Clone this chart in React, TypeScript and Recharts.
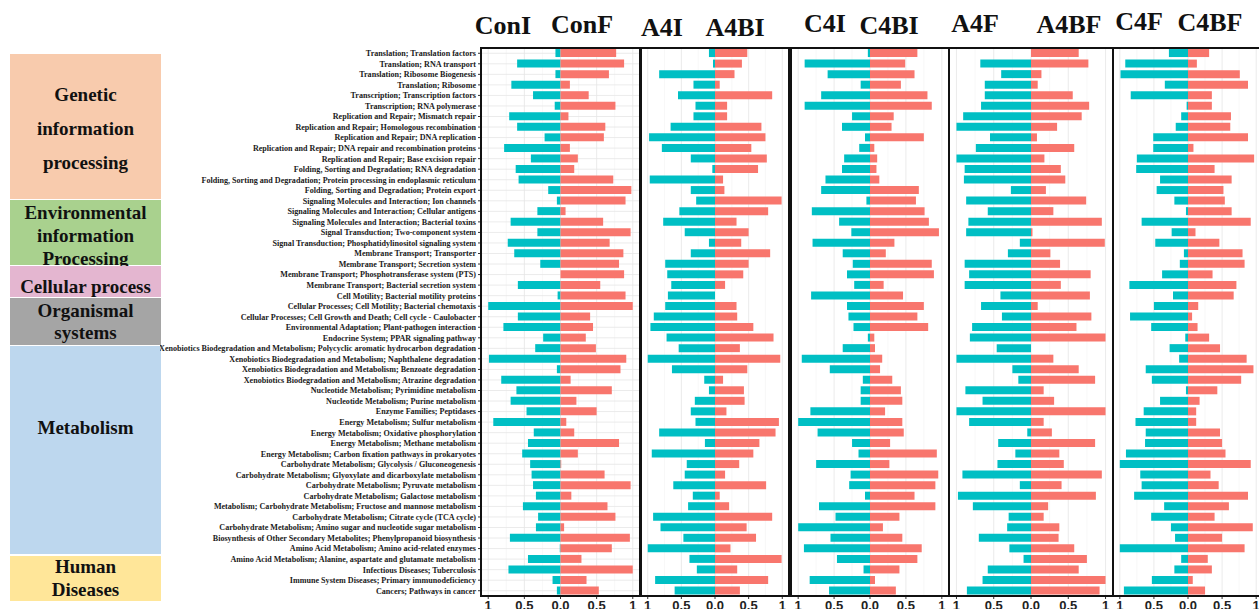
import React from "react";
import { BarChart, Bar, XAxis, YAxis, CartesianGrid } from "recharts";

// KEGG pathway rows, top to bottom
const pathways = [
  "Translation; Translation factors",
  "Translation; RNA transport",
  "Translation; Ribosome Biogenesis",
  "Translation; Ribosome",
  "Transcription; Transcription factors",
  "Transcription; RNA polymerase",
  "Replication and Repair; Mismatch repair",
  "Replication and Repair; Homologous recombination",
  "Replication and Repair; DNA replication",
  "Replication and Repair; DNA repair and recombination proteins",
  "Replication and Repair; Base excision repair",
  "Folding, Sorting and Degradation; RNA degradation",
  "Folding, Sorting and Degradation; Protein processing in endoplasmic reticulum",
  "Folding, Sorting and Degradation; Protein export",
  "Signaling Molecules and Interaction; Ion channels",
  "Signaling Molecules and Interaction; Cellular antigens",
  "Signaling Molecules and Interaction; Bacterial toxins",
  "Signal Transduction; Two-component system",
  "Signal Transduction; Phosphatidylinositol signaling system",
  "Membrane Transport; Transporter",
  "Membrane Transport; Secretion system",
  "Membrane Transport; Phosphotransferase system (PTS)",
  "Membrane Transport; Bacterial secretion system",
  "Cell Motility; Bacterial motility proteins",
  "Cellular Processes; Cell Motility; Bacterial chemotaxis",
  "Cellular Processes; Cell Growth and Death; Cell cycle - Caulobacter",
  "Environmental Adaptation; Plant-pathogen interaction",
  "Endocrine System; PPAR signaling pathway",
  "Xenobiotics Biodegradation and Metabolism; Polycyclic aromatic hydrocarbon degradation",
  "Xenobiotics Biodegradation and Metabolism; Naphthalene degradation",
  "Xenobiotics Biodegradation and Metabolism; Benzoate degradation",
  "Xenobiotics Biodegradation and Metabolism; Atrazine degradation",
  "Nucleotide Metabolism; Pyrimidine metabolism",
  "Nucleotide Metabolism; Purine metabolism",
  "Enzyme Families; Peptidases",
  "Energy Metabolism; Sulfur metabolism",
  "Energy Metabolism; Oxidative phosphorylation",
  "Energy Metabolism; Methane metabolism",
  "Energy Metabolism; Carbon fixation pathways in prokaryotes",
  "Carbohydrate Metabolism; Glycolysis / Gluconeogenesis",
  "Carbohydrate Metabolism; Glyoxylate and dicarboxylate metabolism",
  "Carbohydrate Metabolism; Pyruvate metabolism",
  "Carbohydrate Metabolism; Galactose metabolism",
  "Metabolism; Carbohydrate Metabolism; Fructose and mannose metabolism",
  "Carbohydrate Metabolism; Citrate cycle (TCA cycle)",
  "Carbohydrate Metabolism; Amino sugar and nucleotide sugar metabolism",
  "Biosynthesis of Other Secondary Metabolites; Phenylpropanoid biosynthesis",
  "Amino Acid Metabolism; Amino acid-related enzymes",
  "Amino Acid Metabolism; Alanine, aspartate and glutamate metabolism",
  "Infectious Diseases; Tuberculosis",
  "Immune System Diseases; Primary immunodeficiency",
  "Cancers; Pathways in cancer",
];

// left-hand sample of each pair is drawn to the negative side
const conI = [-0.07, -0.6, -0.07, -0.68, -0.38, -0.08, -0.71, -0.6, -0.22, -0.78, -0.41, -0.62, -0.58, -0.17, -0.05, -0.32, -0.69, -0.32, -0.73, -0.64, -0.28, 0, -0.59, -0.04, -1.0, -0.59, -0.79, -0.24, -0.35, -0.99, -0.05, -0.82, -0.61, -0.69, -0.47, -0.93, -0.37, -0.45, -0.53, -0.42, -0.4, -0.38, -0.34, -0.52, -0.31, -0.34, -0.7, -0.01, -0.45, -0.72, -0.11, -0.05];
const conF = [0.77, 0.88, 0.67, 0.13, 0.39, 0.76, 0.11, 0.62, 0.6, 0.13, 0.24, 0.19, 0.73, 0.98, 0.9, 0.07, 0.59, 0.97, 0.68, 0.87, 0.81, 0.88, 0.55, 0.9, 1.0, 0.41, 0.45, 0.35, 0.49, 0.91, 0.83, 0.14, 0.71, 0.22, 0.5, 0.08, 0.19, 0.81, 0.24, 0.01, 0.61, 0.97, 0.15, 0.65, 0.76, 0.05, 0.96, 0.71, 0.29, 1.0, 0.36, 0.53];
const a4I = [-0.09, -0.03, -0.83, -0.32, -0.55, -0.29, -0.32, -0.66, -0.98, -0.79, -0.36, -0.04, -0.97, -0.36, -0.28, -0.53, -0.77, -0.45, -0.09, -0.36, -0.74, -0.71, -0.65, -0.7, -0.74, -0.91, -0.96, -0.72, -0.54, -1.0, -0.64, -0.16, -0.09, -0.3, -0.36, -0.29, -0.83, -0.15, -0.94, -0.42, -0.45, -0.62, -0.33, -0.4, -0.92, -0.81, -0.47, -1.0, -0.38, -0.27, -0.89, -0.6];
const a4BI = [0.48, 0.4, 0.29, 0.07, 0.85, 0.18, 0.18, 0.69, 0.75, 0.54, 0.77, 0.64, 0.12, 0.14, 0.99, 0.79, 0.32, 0.5, 0.39, 0.82, 0.5, 0.42, 0.15, 0, 0.32, 0.33, 0.57, 0.87, 0.37, 0.97, 0.48, 0.12, 0.43, 0.44, 0.17, 0.95, 0.9, 0.66, 0.57, 0.36, 0.15, 0.76, 0.07, 0.21, 0.85, 0.47, 0.61, 0.23, 0.99, 0.33, 0.79, 0.37];
const c4I = [-0.03, -0.91, -0.59, -0.13, -0.68, -0.91, -0.25, -0.39, -0.07, -0.15, -0.36, -0.39, -0.62, -0.68, -0.05, -0.81, -0.43, -0.26, -0.8, -0.38, -0.24, -0.32, -0.22, -0.82, -0.32, -0.3, -0.23, -0.03, -0.38, -0.95, -0.56, -0.1, -0.13, -0.13, -0.83, -1.0, -0.73, -0.25, -0.16, -0.75, -0.27, -0.29, -0.07, -0.71, -0.48, -1.0, -0.55, -0.92, -0.46, -0.09, -0.84, -0.57];
const c4BI = [0.66, 0.49, 0.62, 0.43, 0.8, 0.86, 0.33, 0.3, 0.75, 0.06, 0.1, 0.09, 0.13, 0.68, 0.64, 0.76, 0.82, 0.96, 0.34, 0.22, 0.86, 0.89, 0.19, 0.46, 0.75, 0.66, 0.81, 0.06, 0.07, 0.17, 0.14, 0.31, 0.43, 0.45, 0.21, 0.45, 0.47, 0.28, 0.93, 0.27, 0.95, 0.91, 0.62, 0.91, 0.41, 0.18, 0.45, 0.72, 0.66, 0.41, 0.07, 0.36];
const a4F = [0, -0.68, -0.4, -0.62, -0.62, -0.67, -0.91, -1.0, -0.55, -0.74, -1.0, -0.89, -0.9, -0.27, -0.87, -0.58, -0.84, -0.87, -0.15, -0.31, -0.89, -0.83, -0.89, -0.41, -0.67, -0.39, -0.79, -0.82, -0.46, -1.0, -0.25, -0.17, -0.88, -0.65, -1.0, -0.83, -0.05, -0.44, -0.21, -0.45, -0.92, -0.15, -0.98, -0.78, -0.3, -0.32, -0.7, -0.29, -0.1, -0.58, -0.65, -0.86];
const a4BF = [0.64, 0.77, 0.14, 0.09, 0.56, 0.78, 0.68, 0.35, 0.08, 0.58, 0.18, 0.4, 0.46, 0.2, 0.74, 0.3, 0.95, 0.02, 0.99, 0.26, 0.39, 0.8, 0.4, 0.79, 0.09, 0.81, 0.61, 1.0, 0, 0.3, 0.64, 0.86, 0.17, 0.31, 1.0, 0.17, 0.28, 0.86, 0.38, 0.44, 0.95, 0.41, 0.87, 0.23, 0.17, 0.38, 0.37, 0.58, 0.75, 0.64, 1.0, 0.92];
const c4F = [-0.28, -0.92, -0.99, -0.34, -0.84, -0.02, -0.1, -0.18, -0.51, -0.51, -0.75, -0.76, -0.41, -0.46, -0.2, -0.03, -0.68, -0.24, -0.48, -0.06, -0.12, -0.38, -0.86, -0.22, -0.5, -0.85, -0.54, -0.04, -0.27, -0.13, -0.62, -0.53, -0.03, -0.41, -0.65, -0.77, -0.62, -0.63, -0.91, -1.0, -0.7, -0.68, -0.79, -0.35, -0.54, -0.25, -0.19, -1.0, -0.1, -0.2, -0.53, -0.94];
const c4BF = [0.31, 0.13, 0.76, 0.88, 0.35, 0.35, 0.63, 0.62, 0.88, 0.08, 0.97, 0.39, 0.64, 0.52, 0.54, 0.64, 0.92, 0.11, 0.46, 0.8, 0.83, 0.36, 0.71, 0.67, 0.15, 0.06, 0.14, 0.31, 0.47, 0.86, 0.96, 0.78, 0.43, 0.17, 0.12, 0.12, 0.47, 0.5, 0.55, 0.92, 0.33, 0.45, 0.88, 0.6, 0.39, 0.95, 0.5, 0.83, 0.29, 0.35, 0.07, 0.25];

const xTicks = [-1, -0.5, 0, 0.5, 1];
const minorX = [-0.75, -0.25, 0.25, 0.75];

const groups = [
  { label: ["Genetic", "information", "processing"], color: "#F8CBAD", y0: 54, y1: 199, lines: [95, 129, 163] },
  { label: ["Environmental", "information", "Processing"], color: "#A9D18E", y0: 200, y1: 265, lines: [213, 236, 259] },
  { label: ["Cellular process"], color: "#E4B6D0", y0: 266, y1: 297, lines: [287] },
  { label: ["Organismal", "systems"], color: "#A5A5A5", y0: 298, y1: 345, lines: [311, 333] },
  { label: ["Metabolism"], color: "#BDD7EE", y0: 346, y1: 554, lines: [428] },
  { label: ["Human", "Diseases"], color: "#FFE699", y0: 556, y1: 601, lines: [567, 590] },
];

const SERIF = "'Liberation Serif', 'Times New Roman', serif";
const SANS = "'Liberation Sans', Arial, sans-serif";
const CYAN = "#00BFC4";
const SALMON = "#F8766D";

const TOP = 48;
const PLOT_H = 548;
const AXIS_H = 30;

const panels = [
  { names: ["ConI", "ConF"], neg: conI, pos: conF, x: 481, w: 159, yw: 321, heads: [[503, 34], [582, 33]] },
  { names: ["A4I", "A4BI"], neg: a4I, pos: a4BI, x: 641, w: 148, yw: 4, heads: [[662, 36], [735, 36]] },
  { names: ["C4I", "C4BI"], neg: c4I, pos: c4BI, x: 791, w: 158, yw: 4, heads: [[825, 32], [889, 34]] },
  { names: ["A4F", "A4BF"], neg: a4F, pos: a4BF, x: 949, w: 164, yw: 4, heads: [[975, 32], [1069, 33]] },
  { names: ["C4F", "C4BF"], neg: c4F, pos: c4BF, x: 1113, w: 150, yw: 4, heads: [[1139, 30], [1210, 31]] },
];

const fmtX = (v: number) => (v === 0 ? "0.0" : String(Math.abs(v)));

// single-line pathway label, right aligned against the tick
function PathwayTick({ x, y, payload }: any) {
  return (
    <text
      x={x}
      y={y}
      dy={2.9}
      textAnchor="end"
      fontFamily={SERIF}
      fontWeight="bold"
      fontSize={8.1}
      fill="#1a1a1a"
    >
      {payload.value}
    </text>
  );
}

function Panel({ p, first }: { p: (typeof panels)[number]; first: boolean }) {
  const data = pathways.map((name, i) => ({ name, neg: p.neg[i], pos: p.pos[i] }));
  return (
    <div style={{ position: "absolute", left: p.x - p.yw, top: TOP }}>
      <BarChart
        width={p.yw + p.w}
        height={PLOT_H + AXIS_H}
        data={data}
        layout="vertical"
        stackOffset="sign"
        barCategoryGap="10%"
        margin={{ top: 0, right: 0, bottom: 0, left: 0 }}
      >
        <CartesianGrid horizontal={false} verticalValues={minorX} stroke="#F3F3F3" strokeWidth={0.6} />
        <CartesianGrid verticalValues={xTicks} stroke="#E6E6E6" strokeWidth={0.8} />
        <XAxis
          type="number"
          domain={[-1.1, 1.1]}
          allowDataOverflow
          ticks={xTicks}
          interval={0}
          tickFormatter={fmtX}
          height={AXIS_H}
          axisLine={false}
          tickSize={3}
          tickLine={{ stroke: "#333" }}
          tick={{ fontFamily: SANS, fontWeight: "bold", fontSize: 13, fill: "#222" }}
        />
        <YAxis
          type="category"
          dataKey="name"
          width={p.yw}
          interval={0}
          axisLine={false}
          tickSize={3}
          tickLine={{ stroke: "#333" }}
          tick={first ? <PathwayTick /> : false}
        />
        <Bar dataKey="neg" stackId="s" fill={CYAN} isAnimationActive={false} />
        <Bar dataKey="pos" stackId="s" fill={SALMON} isAnimationActive={false} />
      </BarChart>
    </div>
  );
}

export default function App() {
  return (
    <div
      style={{
        position: "absolute",
        left: 0,
        top: 0,
        width: 1259,
        height: 609,
        overflow: "hidden",
        background: "#fff",
      }}
    >
      <svg width={1259} height={609} style={{ position: "absolute", left: 0, top: 0 }}>
        {groups.map((g) => (
          <g key={g.label.join(" ")}>
            <rect x={10} y={g.y0} width={151} height={g.y1 - g.y0} fill={g.color} />
            {g.label.map((t, i) => (
              <text
                key={t}
                x={85.5}
                y={g.lines[i] + 6}
                textAnchor="middle"
                fontFamily={SERIF}
                fontWeight="bold"
                fontSize={19}
                fill="#111"
              >
                {t}
              </text>
            ))}
          </g>
        ))}
        {panels.map((p) =>
          p.names.map((n, i) => (
            <text
              key={n}
              x={p.heads[i][0]}
              y={p.heads[i][1]}
              textAnchor="middle"
              fontFamily={SERIF}
              fontWeight="bold"
              fontSize={26}
              fill="#111"
            >
              {n}
            </text>
          ))
        )}
      </svg>
      {panels.map((p, i) => (
        <Panel key={p.names[0]} p={p} first={i === 0} />
      ))}
      {panels.map((p) => (
        <div
          key={"frame-" + p.names[0]}
          style={{
            position: "absolute",
            left: p.x - 1,
            top: TOP - 1,
            width: p.w + 2,
            height: PLOT_H + 2,
            border: "2px solid #111",
            boxSizing: "border-box",
            pointerEvents: "none",
          }}
        />
      ))}
    </div>
  );
}
